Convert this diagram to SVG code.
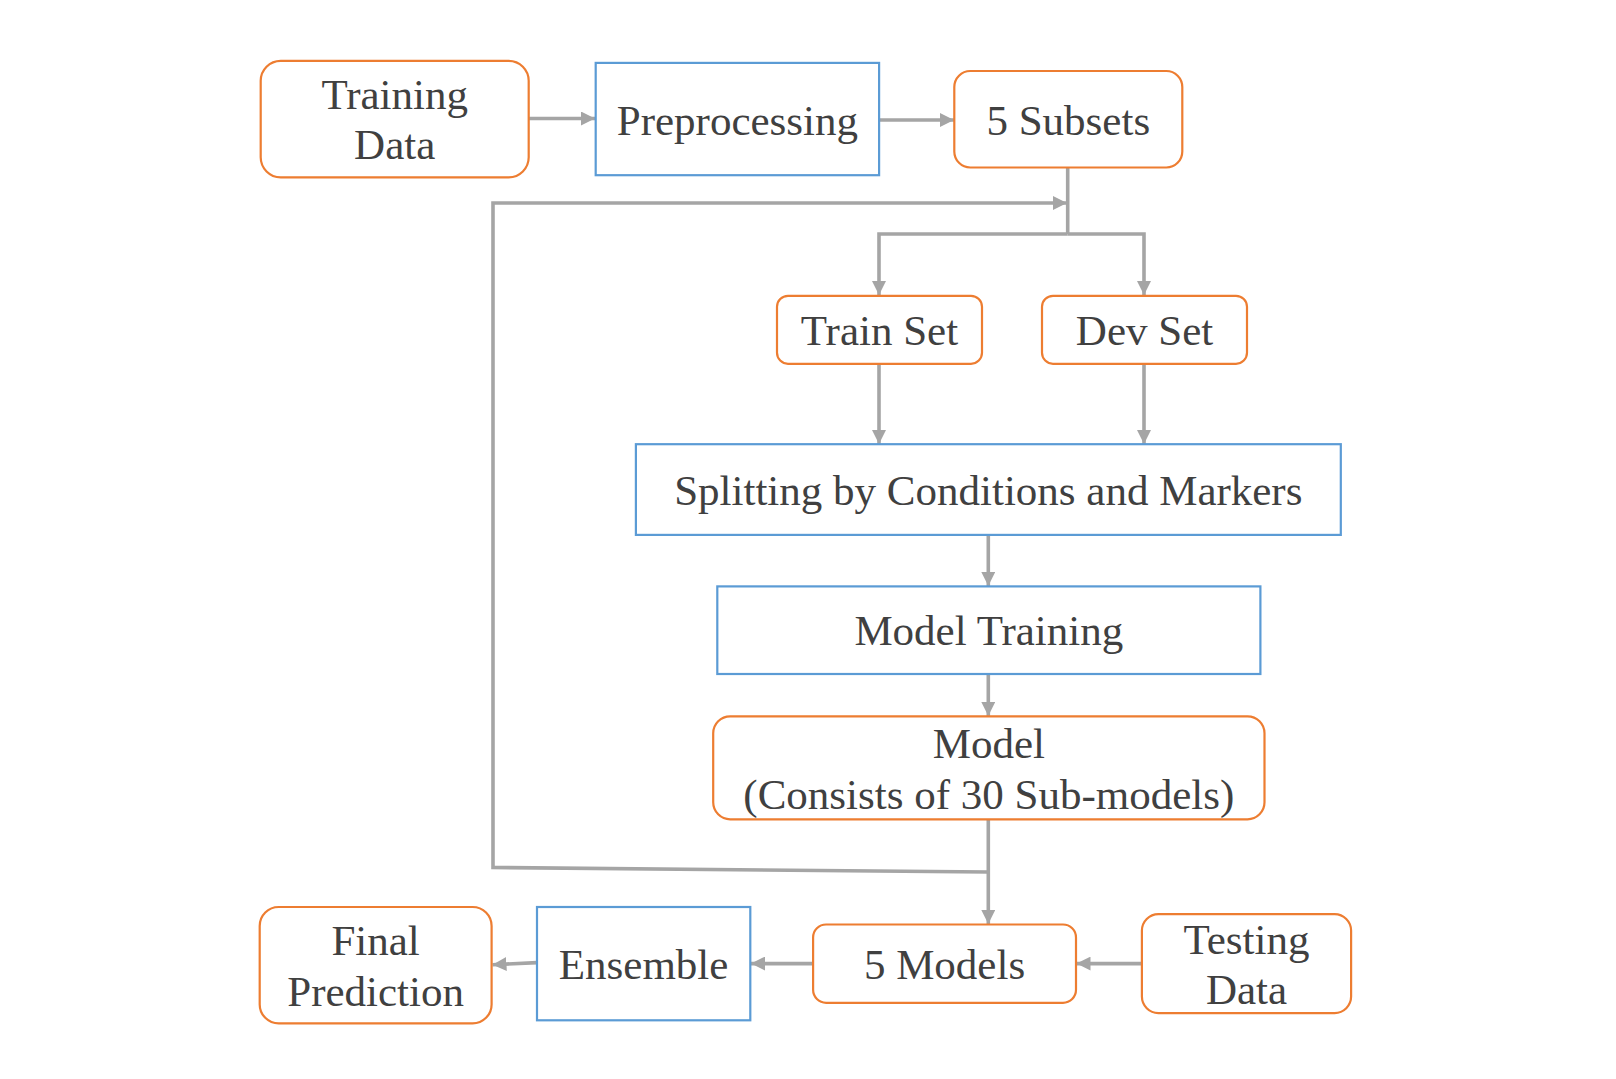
<svg xmlns="http://www.w3.org/2000/svg" width="1616" height="1079" viewBox="0 0 1616 1079">
<style>
.o{fill:#fff;stroke:#ED7D31;stroke-width:2.2}
.b{fill:#fff;stroke:#5B9BD5;stroke-width:2.2}
.t{font-family:"Liberation Serif","Times New Roman",serif;font-size:43px;fill:#404040;text-anchor:middle}
.c{fill:none;stroke:#A5A5A5;stroke-width:3.6}
</style>
<defs>
<marker id="ah" viewBox="0 0 14 14" refX="14" refY="7" markerWidth="14" markerHeight="14" markerUnits="userSpaceOnUse" orient="auto">
<path d="M0,0 L14,7 L0,14 z" fill="#A5A5A5"/>
</marker>
</defs>
<rect width="1616" height="1079" fill="#fff"/>
<g id="connectors">
<path class="c" d="M529,118.5 L595,118.5" marker-end="url(#ah)"/>
<path class="c" d="M879,120 L954,120" marker-end="url(#ah)"/>
<path class="c" d="M1067.7,167 L1067.7,234"/>
<path class="c" d="M1067.7,234 L879,234 L879,295" marker-end="url(#ah)"/>
<path class="c" d="M1067.7,234 L1144,234 L1144,295" marker-end="url(#ah)"/>
<path class="c" d="M879,364 L879,444" marker-end="url(#ah)"/>
<path class="c" d="M1144,364 L1144,444" marker-end="url(#ah)"/>
<path class="c" d="M988.3,535 L988.3,586" marker-end="url(#ah)"/>
<path class="c" d="M988.3,674 L988.3,716" marker-end="url(#ah)"/>
<path class="c" d="M988.3,819 L988.3,924" marker-end="url(#ah)"/>
<path class="c" d="M988.3,872 L493,867.5 L493,203 L1067,203" marker-end="url(#ah)"/>
<path class="c" d="M1142,963.6 L1076.5,963.6" marker-end="url(#ah)"/>
<path class="c" d="M813,963.6 L751,963.6" marker-end="url(#ah)"/>
<path class="c" d="M537,962.6 L492.5,964.7" marker-end="url(#ah)"/>
</g>
<g id="training-data">
<rect class="o" x="260.7" y="60.8" width="268" height="116.5" rx="20"/>
<text class="t" x="394.7" y="109">Training</text>
<text class="t" x="394.7" y="159">Data</text>
</g>
<g id="preprocessing">
<rect class="b" x="595.7" y="62.9" width="283.4" height="112.3"/>
<text class="t" x="737.4" y="135">Preprocessing</text>
</g>
<g id="subsets">
<rect class="o" x="954.3" y="71" width="228" height="96.5" rx="16"/>
<text class="t" x="1068.3" y="135">5 Subsets</text>
</g>
<g id="train-set">
<rect class="o" x="777" y="295.8" width="205" height="68" rx="11"/>
<text class="t" x="879.5" y="345">Train Set</text>
</g>
<g id="dev-set">
<rect class="o" x="1042" y="295.8" width="205" height="68" rx="11"/>
<text class="t" x="1144.5" y="345">Dev Set</text>
</g>
<g id="splitting">
<rect class="b" x="635.9" y="444.2" width="704.9" height="90.7"/>
<text class="t" x="988.3" y="504.5">Splitting by Conditions and Markers</text>
</g>
<g id="model-training">
<rect class="b" x="717.3" y="586.4" width="543.1" height="87.6"/>
<text class="t" x="988.8" y="645">Model Training</text>
</g>
<g id="model">
<rect class="o" x="713.2" y="716.3" width="551.3" height="103" rx="17"/>
<text class="t" x="988.8" y="757.5">Model</text>
<text class="t" x="988.8" y="808.5">(Consists of 30 Sub-models)</text>
</g>
<g id="five-models">
<rect class="o" x="813.1" y="924.5" width="262.9" height="78.3" rx="13"/>
<text class="t" x="944.5" y="979">5 Models</text>
</g>
<g id="testing-data">
<rect class="o" x="1141.9" y="914.1" width="209.2" height="99" rx="16.5"/>
<text class="t" x="1246.5" y="953.5">Testing</text>
<text class="t" x="1246.5" y="1004">Data</text>
</g>
<g id="ensemble">
<rect class="b" x="537" y="907" width="213.3" height="113.3"/>
<text class="t" x="643.6" y="979">Ensemble</text>
</g>
<g id="final-prediction">
<rect class="o" x="259.7" y="907" width="231.9" height="116.4" rx="19"/>
<text class="t" x="375.6" y="955">Final</text>
<text class="t" x="375.6" y="1006">Prediction</text>
</g>
</svg>
